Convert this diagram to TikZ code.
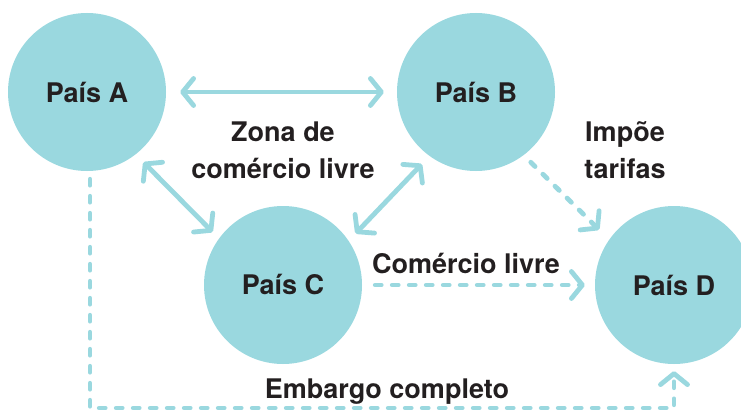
\documentclass[tikz,border=0pt]{standalone}
\usepackage{fontspec}
\setmainfont{TeX Gyre Heros}
\usetikzlibrary{arrows.meta}
\definecolor{paisfill}{HTML}{9AD8DF}
\definecolor{paisink}{HTML}{231F20}

\begin{document}
\begin{tikzpicture}[x=1pt,y=-1pt,
		pais/.style={circle,fill=paisfill,minimum size=158pt,inner sep=0pt,
			text=paisink,font=\bfseries\fontsize{27}{30}\selectfont},
		rotulo/.style={text=paisink,align=center,inner sep=0pt,
			font=\bfseries\fontsize{27}{37}\selectfont},
		liga/.style={draw=paisfill,line width=4.8pt,line cap=round},
		ligatraco/.style={liga,dash pattern=on 6pt off 11pt},
		>={Straight Barb[length=11pt,width=27pt,round]}]
	\useasboundingbox (0,0) rectangle (741,412);
	\node[pais] (A) at (87,92) {País A};
	\node[pais] (B) at (476,92) {País B};
	\node[pais] (C) at (283,285) {País C};
	\node[pais] (D) at (674,285) {País D};
	\coordinate (fundo) at (0,408);
	\draw[liga,<->,shorten <=14pt,shorten >=13pt] (A) -- (B);
	\draw[liga,<->,shorten <=11pt,shorten >=9pt] (A.-52) -- (C.144);
	\draw[liga,<->,shorten <=11pt,shorten >=10pt] (B.234) -- (C.34);
	\draw[ligatraco,->,shorten <=10pt,shorten >=14pt] (B.-53) -- (D.145);
	\draw[ligatraco,->,shorten <=13pt,shorten >=10pt] (C) -- (D);
	\draw[ligatraco,->,shorten <=8pt,shorten >=7pt] ([xshift=3pt]A.south)
		-- ([xshift=3pt]A.south |- fundo) -| (D.south);
	\node[rotulo] (zona) at (283,150) {Zona de\\comércio livre};
	\node[rotulo] (tarifas) at (625,150) {Impõe\\tarifas};
	\node[rotulo,anchor=base] (livre) at (466,273) {Comércio livre};
	\node[rotulo,anchor=base] (embargo) at (387,398) {Embargo completo};
\end{tikzpicture}
\end{document}
